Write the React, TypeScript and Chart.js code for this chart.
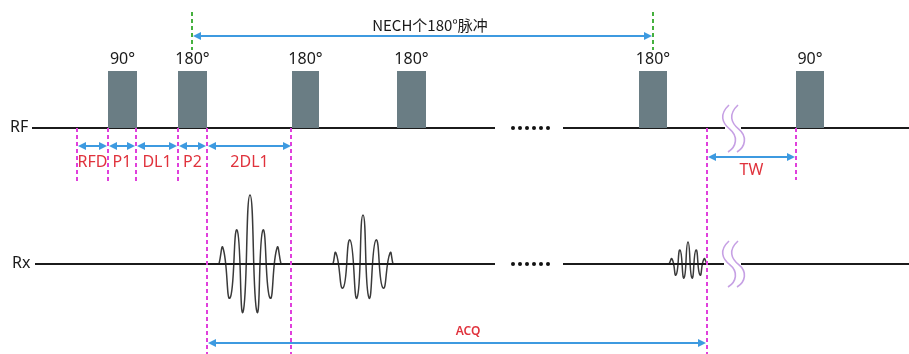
import React, { useEffect, useRef } from "react";
import { Chart, registerables } from "chart.js";
Chart.register(...registerables);

const W = 909;
const H = 354;

// Row levels (vertical positions of the RF and Rx traces)
const RF_Y = 128;
const RX_Y = 264;

// RF pulses (time units along x)
const pulseStart = [108, 178, 292, 397, 639, 796];
const pulseEnd = [137, 207, 319, 426, 667, 824];
const pulseAmp = [57, 57, 57, 57, 57, 57];
const pulseLabels = ["90°", "180°", "180°", "180°", "180°", "90°"];

// Baseline segments
const rfSegStart = [32, 563, 741];
const rfSegEnd = [495, 725, 909];
const rxSegStart = [35, 563, 741];
const rxSegEnd = [495, 724, 909];
const dotsX = [513, 520, 527, 534, 541, 548];

// Echo extrema (x, amplitude above baseline)
const echo1X = [219, 223, 230, 237, 243, 250, 257, 263, 270, 277, 281];
const echo1A = [0, 16, -34, 34, -48, 69, -48, 34, -34, 16, 0];
const echo2X = [333, 336, 343, 350, 357, 363, 369, 376, 383, 390, 393];
const echo2A = [0, 11, -24, 24, -34, 49, -34, 24, -24, 11, 0];
const echo3X = [669, 672, 676, 680, 684, 688, 692, 696, 700, 704, 707];
const echo3A = [0, 5, -11, 14, -14, 22, -14, 14, -11, 5, 0];

// Timing markers
const shortMarkers = [77, 108, 136, 178];
const longMarkers = [207, 291, 707];
const twMarker = 796;
const nechMarkers = [192, 653];
const intervalBounds = [77, 108, 136, 178, 207, 292];
const intervalLabels = ["RFD", "P1", "DL1", "P2", "2DL1"];
const twBounds = [707, 796];
const acqBounds = [207, 707];
const breakX = 722;

const segData = (starts: number[], ends: number[], y: number) => {
  const out: any[] = [];
  starts.forEach((s, i) => {
    out.push({ x: s, y });
    out.push({ x: ends[i], y });
    out.push({ x: (ends[i] + (starts[i + 1] ?? ends[i] + 1)) / 2, y: null });
  });
  return out;
};

const echoData = (xs: number[], as: number[]) => xs.map((x, i) => ({ x, y: RX_Y - as[i] }));

const annotPlugin = {
  id: "annot",
  afterDatasetsDraw(chart: any) {
    const ctx: CanvasRenderingContext2D = chart.ctx;
    const xs = chart.scales.x;
    const ys = chart.scales.y;
    const px = (v: number) => xs.getPixelForValue(v);
    const py = (v: number) => ys.getPixelForValue(v);
    ctx.save();

    const dashed = (x: number, y0: number, y1: number, color: string) => {
      ctx.save();
      ctx.strokeStyle = color;
      ctx.lineWidth = 2;
      ctx.setLineDash([4, 3]);
      ctx.beginPath();
      ctx.moveTo(px(x), py(y0));
      ctx.lineTo(px(x), py(y1));
      ctx.stroke();
      ctx.restore();
    };
    const arrow = (x0: number, x1: number, y: number) => {
      const a = px(x0), b = px(x1), yy = py(y);
      const c = "#3d9ae0";
      ctx.save();
      ctx.strokeStyle = c;
      ctx.fillStyle = c;
      ctx.lineWidth = 2;
      ctx.beginPath();
      ctx.moveTo(a + 4, yy);
      ctx.lineTo(b - 4, yy);
      ctx.stroke();
      const head = (tip: number, dir: number) => {
        ctx.beginPath();
        ctx.moveTo(tip, yy);
        ctx.lineTo(tip + dir * 8, yy - 4);
        ctx.lineTo(tip + dir * 8, yy + 4);
        ctx.closePath();
        ctx.fill();
      };
      head(a + 1, 1);
      head(b - 1, -1);
      ctx.restore();
    };
    const text = (s: string, x: number, y: number, font: string, color: string, align: CanvasTextAlign = "center") => {
      ctx.font = font;
      ctx.fillStyle = color;
      ctx.textAlign = align;
      ctx.textBaseline = "middle";
      ctx.fillText(s, px(x), py(y));
    };
    const squiggle = (x: number, t: number, b: number) => {
      ctx.save();
      ctx.strokeStyle = "#c6a0e4";
      ctx.lineWidth = 1.6;
      for (const off of [0, 9]) {
        const X = px(x + off);
        const T = py(t);
        const h = py(b) - T;
        ctx.beginPath();
        ctx.moveTo(X + 7, T);
        ctx.bezierCurveTo(X - 3, T + 0.2 * h, X + 0, T + 0.38 * h, X + 8, T + 0.52 * h);
        ctx.bezierCurveTo(X + 16, T + 0.66 * h, X + 15, T + 0.88 * h, X + 6, T + h);
        ctx.stroke();
      }
      ctx.restore();
    };

    const magenta = "#e040dc";
    shortMarkers.forEach((m) => dashed(m, RF_Y, 182, magenta));
    longMarkers.forEach((m) => dashed(m, RF_Y, H, magenta));
    dashed(twMarker, RF_Y, 180, magenta);
    nechMarkers.forEach((m) => dashed(m, 12, 50, "#45b03e"));

    arrow(nechMarkers[0], nechMarkers[1], 36);
    for (let i = 0; i < intervalLabels.length; i++) {
      arrow(intervalBounds[i], intervalBounds[i + 1], 146);
    }
    arrow(twBounds[0], twBounds[1], 157);
    arrow(acqBounds[0], acqBounds[1], 343);

    const red = "#e0323c";
    const lf = "16px 'Noto Sans', sans-serif";
    intervalLabels.forEach((l, i) => {
      text(l, (intervalBounds[i] + intervalBounds[i + 1]) / 2, 162, lf, red);
    });
    text("TW", (twBounds[0] + twBounds[1]) / 2, 170, lf, red);
    text("ACQ", 468, 332, "600 12px 'Noto Sans', sans-serif", red);

    pulseLabels.forEach((l, i) => {
      text(l, (pulseStart[i] + pulseEnd[i]) / 2, 59, lf, "#1a1a1a");
    });
    text("NECH个180°脉冲", 430, 25, "15px 'Noto Sans CJK SC', 'Noto Sans', sans-serif", "#1a1a1a");
    text("RF", 10, RF_Y - 1, lf, "#1a1a1a", "left");
    text("Rx", 12, RX_Y - 1, lf, "#1a1a1a", "left");

    squiggle(breakX, 105, 152);
    squiggle(breakX, 241, 287);

    ctx.restore();
  },
};

export default function App() {
  const ref = useRef<HTMLCanvasElement>(null);
  useEffect(() => {
    document.body.style.margin = "0";
    const datasets: any[] = [];
    pulseStart.forEach((s, i) => {
      datasets.push({
        data: [
          { x: s, y: RF_Y - pulseAmp[i] },
          { x: pulseEnd[i], y: RF_Y - pulseAmp[i] },
        ],
        borderWidth: 0,
        backgroundColor: "#6a7d84",
        fill: { value: RF_Y },
        pointRadius: 0,
      });
    });
    datasets.push({
      data: segData(rfSegStart, rfSegEnd, RF_Y),
      borderColor: "#1b1b1b",
      borderWidth: 2,
      pointRadius: 0,
      spanGaps: false,
    });
    datasets.push({
      data: segData(rxSegStart, rxSegEnd, RX_Y),
      borderColor: "#1b1b1b",
      borderWidth: 2,
      pointRadius: 0,
      spanGaps: false,
    });
    [RF_Y, RX_Y].forEach((y) => {
      datasets.push({
        data: dotsX.map((x) => ({ x, y })),
        showLine: false,
        pointRadius: 2,
        pointBackgroundColor: "#111",
        pointBorderWidth: 0,
      });
    });
    [
      [echo1X, echo1A],
      [echo2X, echo2A],
      [echo3X, echo3A],
    ].forEach(([xs, as]) => {
      datasets.push({
        data: echoData(xs as number[], as as number[]),
        borderColor: "#3a3a3a",
        borderWidth: 1.5,
        pointRadius: 0,
        tension: 0.6,
      });
    });

    const chart = new Chart(ref.current!, {
      type: "line",
      data: { datasets },
      options: {
        responsive: false,
        animation: false,
        devicePixelRatio: 1,
        layout: { padding: 0, autoPadding: false },
        plugins: { legend: { display: false }, tooltip: { enabled: false } },
        scales: {
          x: { type: "linear", min: 0, max: W, display: false },
          y: { type: "linear", min: 0, max: H, reverse: true, display: false },
        },
      },
      plugins: [annotPlugin],
    });
    return () => chart.destroy();
  }, []);
  return (
    <div style={{ width: W, height: H, background: "#fff" }}>
      <canvas ref={ref} width={W} height={H} />
    </div>
  );
}
